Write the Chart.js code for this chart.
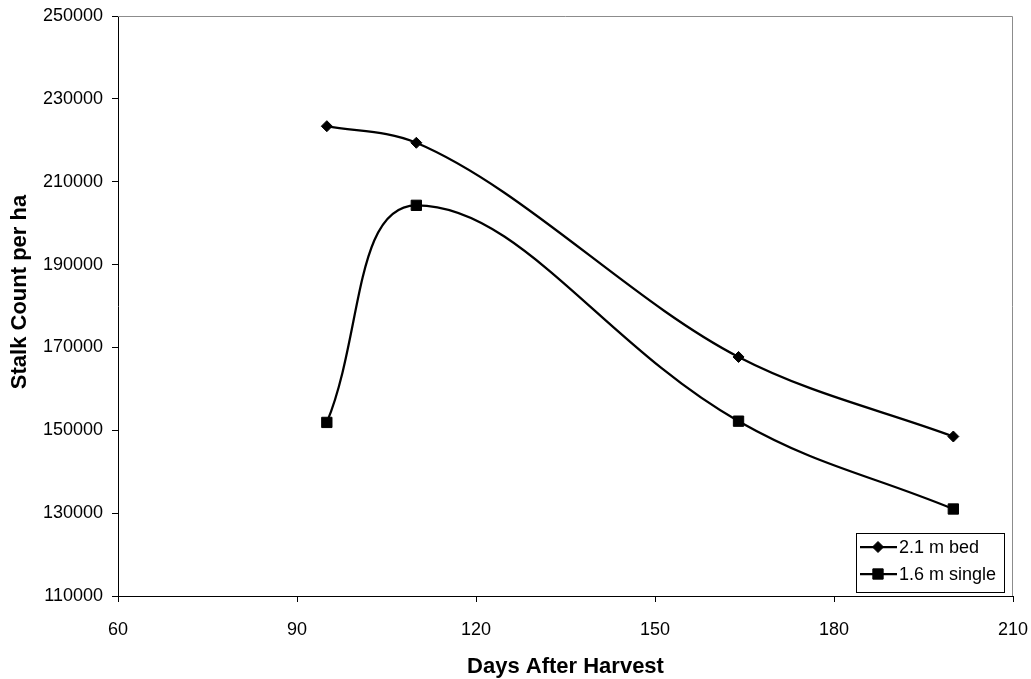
<!DOCTYPE html>
<html>
<head>
<meta charset="utf-8">
<script src="https://cdn.jsdelivr.net/npm/chart.js@4.4.1/dist/chart.umd.min.js"></script>
<style>
  html, body { margin: 0; padding: 0; background: #fff; }
  #wrap { width: 1031px; height: 679px; position: relative; }
</style>
</head>
<body>
<div id="wrap"><canvas id="stalks"></canvas></div>
<script>
// ================================================
// Stalk count vs days after harvest
// ================================================

const days       = [95, 110, 164, 200];
const bed21      = [223400, 219400, 167700, 148500];
const single16   = [151900, 204300, 152200, 131000];
const seriesName = ['2.1 m bed', '1.6 m single'];
const xTitle     = 'Days After Harvest';
const yTitle     = 'Stalk Count per ha';

const FONT = "'Liberation Sans', Arial, sans-serif";

// gray frame on the top / right of the plot area
const framePlugin = {
  id: 'frame',
  beforeDatasetsDraw(chart) {
    const { ctx, chartArea: a } = chart;
    ctx.save();
    ctx.strokeStyle = '#8c8c8c';
    ctx.lineWidth = 1;
    ctx.beginPath();
    ctx.moveTo(a.left, a.top + 0.5);
    ctx.lineTo(a.right - 0.5, a.top + 0.5);
    ctx.lineTo(a.right - 0.5, a.bottom);
    ctx.stroke();
    ctx.restore();
  }
};

// axis titles (y one sits a little above centre)
const titlesPlugin = {
  id: 'titles',
  afterDraw(chart) {
    const { ctx, chartArea: a } = chart;
    ctx.save();
    ctx.fillStyle = '#000';
    ctx.font = 'bold 22px ' + FONT;
    ctx.textAlign = 'center';
    ctx.textBaseline = 'middle';
    ctx.fillText(xTitle, (a.left + a.right) / 2, 667);
    ctx.translate(20, 292);
    ctx.rotate(-Math.PI / 2);
    ctx.fillText(yTitle, 0, 0);
    ctx.restore();
  }
};

// boxed legend in the lower right corner
const boxLegend = {
  id: 'boxLegend',
  afterDraw(chart) {
    const { ctx } = chart;
    const bx = 856, by = 533, bw = 148, bh = 59;
    ctx.save();
    ctx.fillStyle = '#fff';
    ctx.fillRect(bx, by, bw, bh);
    ctx.strokeStyle = '#000';
    ctx.lineWidth = 1;
    ctx.strokeRect(bx + 0.5, by + 0.5, bw, bh);
    chart.data.datasets.forEach((ds, i) => {
      const y = 547 + i * 27;
      ctx.strokeStyle = '#000';
      ctx.lineWidth = ds.borderWidth;
      ctx.beginPath();
      ctx.moveTo(860, y);
      ctx.lineTo(897, y);
      ctx.stroke();
      ctx.fillStyle = '#000';
      ctx.lineWidth = 1;
      Chart.helpers.drawPoint(ctx, {
        pointStyle: ds.pointStyle, radius: ds.pointRadius, rotation: 0, borderWidth: 1
      }, 878, y);
      ctx.fillStyle = '#000';
      ctx.font = '18px ' + FONT;
      ctx.textAlign = 'left';
      ctx.textBaseline = 'middle';
      ctx.fillText(ds.label, 899, y + 1);
    });
    ctx.restore();
  }
};

const tickFont = { family: FONT, size: 18 };

new Chart(document.getElementById('stalks'), {
  type: 'line',
  data: {
    datasets: [
      {
        label: seriesName[0],
        data: days.map((d, i) => ({ x: d, y: bed21[i] })),
        borderColor: '#000',
        borderWidth: 2.25,
        cubicInterpolationMode: 'monotone',
        pointStyle: 'rectRot',
        pointRadius: 5.5,
        pointBackgroundColor: '#000',
        pointBorderColor: '#000',
        pointBorderWidth: 1,
      },
      {
        label: seriesName[1],
        data: days.map((d, i) => ({ x: d, y: single16[i] })),
        borderColor: '#000',
        borderWidth: 2.25,
        tension: 0.4,
        pointStyle: 'rect',
        pointRadius: 7.3,
        pointBackgroundColor: '#000',
        pointBorderColor: '#000',
        pointBorderWidth: 1,
      }
    ]
  },
  options: {
    responsive: true,
    maintainAspectRatio: false,
    animation: false,
    devicePixelRatio: 1,
    layout: { padding: { left: 0, top: 16, right: 18, bottom: 0 } },
    plugins: {
      legend: { display: false },
      tooltip: { enabled: false },
    },
    scales: {
      x: {
        type: 'linear',
        min: 60, max: 210,
        // fixed band height, no label overhang so the plot box stays put
        afterFit: s => { s.height = 83; s.paddingLeft = 0; s.paddingRight = 0; },
        ticks: { stepSize: 30, color: '#000', font: tickFont, padding: 17, maxRotation: 0 },
        grid: { drawOnChartArea: false, tickLength: 6, color: '#000' },
        border: { color: '#000', width: 1 },
      },
      y: {
        min: 110000, max: 250000,
        afterFit: s => { s.width = 118; s.paddingTop = 0; s.paddingBottom = 0; },
        ticks: { stepSize: 20000, color: '#000', font: tickFont, padding: 9, callback: v => String(v) },
        grid: { drawOnChartArea: false, tickLength: 6, color: '#000' },
        border: { color: '#000', width: 1 },
      }
    }
  },
  plugins: [framePlugin, titlesPlugin, boxLegend]
});
</script>
</body>
</html>
